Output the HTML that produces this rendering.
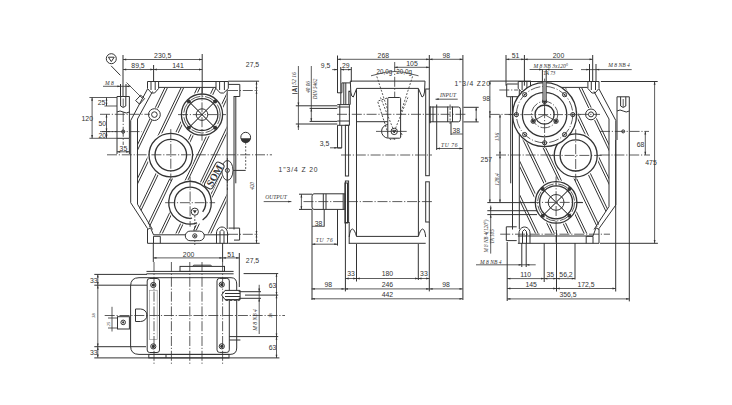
<!DOCTYPE html>
<html><head><meta charset="utf-8"><title>Gearbox drawing</title>
<style>
html,body{margin:0;padding:0;background:#fff;}
svg{display:block;}
svg *{stroke:#333;stroke-width:1;fill:none;}
.dm{stroke-width:0.8;}
.th{stroke-width:1.3;}
.lt{stroke:#999;stroke-width:0.7;}
.cl{stroke-width:0.8;stroke-dasharray:10 1.8 1.2 1.8;}
.hd{stroke-width:0.8;stroke-dasharray:2 1.5;}
.f{fill:#333;stroke:none;}
.w{fill:#fff;}
.g{fill:#999;stroke-width:0.6;}
text{font-family:"Liberation Sans",sans-serif;fill:#333;stroke:none;}
.ti{font-family:"Liberation Serif",serif;font-style:italic;}
.tbs{font-weight:bold;}
.tb{font-family:"Liberation Serif",serif;font-weight:bold;}
mask *{stroke:none;}
.mb{fill:#000;}
.mw{fill:#fff;}
</style></head><body>
<svg width="732" height="405" viewBox="0 0 732 405">
<defs>
<mask id="mf" maskUnits="userSpaceOnUse" x="0" y="0" width="732" height="405">
<rect x="0" y="0" width="732" height="405" class="mb"/>
<path d="M152.5,88 L226.5,88 L226.5,233.6 L153,233.6 L137.5,204.5 L137.5,119 Z" class="mw"/>
<circle cx="202" cy="114.6" r="22.5" class="mb"/>
<circle cx="154.5" cy="114.3" r="6.8" class="mb"/>
<circle cx="170.8" cy="155.1" r="23.6" class="mb"/>
<circle cx="190.1" cy="202.7" r="23" class="mb"/>
<rect x="185" y="230.5" width="19.6" height="3" class="mb"/>
<g transform="translate(214.3,175.5) rotate(-61)"><rect x="-15.5" y="-5.8" width="31" height="11.6" class="mb"/></g>
<ellipse cx="227.4" cy="170.4" rx="6.5" ry="11" class="mb"/>
</mask>
<mask id="mr" maskUnits="userSpaceOnUse" x="0" y="0" width="732" height="405">
<rect x="0" y="0" width="732" height="405" class="mb"/>
<path d="M594.0,88 L520.0,88 L520.0,233.6 L593.5,233.6 L609.0,206.5 L609.0,119 Z" class="mw"/>
<circle cx="544.6" cy="114.6" r="33.5" class="mb"/>
<circle cx="591" cy="114.4" r="6.8" class="mb"/>
<circle cx="575.7" cy="155.4" r="23.3" class="mb"/>
<circle cx="556.1" cy="202.4" r="22.5" class="mb"/>
</mask>
</defs>
<rect x="0" y="0" width="732" height="405" fill="#fff" style="stroke:none"/>
<circle cx="111.3" cy="58.7" r="5"/>
<path d="M108.4,57.2 L114.2,57.2 L111.3,61.6 Z"/>
<line x1="111.1" y1="65.8" x2="120.4" y2="75.4"/>
<line x1="123" y1="55" x2="123" y2="97"/>
<line x1="153.6" y1="65" x2="153.6" y2="82"/>
<line x1="202.2" y1="54" x2="202.2" y2="93"/>
<line x1="123" y1="59.5" x2="202.2" y2="59.5" class="dm"/>
<path class="f" d="M123,59.5 L126.2,58.6 L126.2,60.4 Z"/>
<path class="f" d="M202.2,59.5 L199,60.4 L199,58.6 Z"/>
<line x1="123" y1="69.5" x2="153.6" y2="69.5" class="dm"/>
<path class="f" d="M123,69.5 L126.2,68.6 L126.2,70.4 Z"/>
<path class="f" d="M153.6,69.5 L150.4,70.4 L150.4,68.6 Z"/>
<line x1="153.6" y1="69.5" x2="202.2" y2="69.5" class="dm"/>
<path class="f" d="M153.6,69.5 L156.8,68.6 L156.8,70.4 Z"/>
<path class="f" d="M202.2,69.5 L199,70.4 L199,68.6 Z"/>
<text transform="translate(162.7 57.8) scale(0.86 1)" font-size="8" text-anchor="middle" class="t">230,5</text>
<text transform="translate(138 67.9) scale(0.86 1)" font-size="8" text-anchor="middle" class="t">89,5</text>
<text transform="translate(178 67.9) scale(0.86 1)" font-size="8" text-anchor="middle" class="t">141</text>
<text transform="translate(252.5 66.5) scale(0.86 1)" font-size="8" text-anchor="middle" class="t">27,5</text>
<text transform="translate(109.3 84.6) scale(0.86 1)" font-size="6.5" text-anchor="middle" class="ti">M 8</text>
<line x1="103" y1="86.3" x2="130.6" y2="86.3" class="dm"/>
<path class="f" d="M120.5,86.3 L117.3,87.2 L117.3,85.4 Z"/>
<path class="f" d="M126,86.3 L129.2,85.4 L129.2,87.2 Z"/>
<line x1="120.5" y1="84" x2="120.5" y2="97"/>
<line x1="126" y1="84" x2="126" y2="97"/>
<path d="M117,96.5 L129.4,96.5 L129.4,138.3 L117,138.3 Z"/>
<path d="M120.6,96.5 L120.6,106 Q123.2,109 125.8,106 L125.8,96.5"/>
<line x1="123.2" y1="98.5" x2="123.2" y2="107" class="dm"/>
<path d="M117,112 q3,-2 6.2,0 q3,2 6.2,0"/>
<line x1="89.4" y1="97.5" x2="117" y2="97.5" class="dm"/>
<line x1="104.4" y1="106" x2="117" y2="106" class="dm"/>
<line x1="89.4" y1="138.3" x2="117" y2="138.3" class="dm"/>
<line x1="102" y1="131.6" x2="117" y2="131.6" class="dm"/>
<line x1="100" y1="114.3" x2="150" y2="114.3" class="cl"/>
<line x1="100" y1="131.6" x2="142" y2="131.6" class="cl"/>
<circle cx="123.2" cy="131.6" r="1.6"/>
<line x1="123.2" y1="112" x2="123.2" y2="145" class="cl"/>
<line x1="92.1" y1="97.5" x2="92.1" y2="138.3" class="dm"/>
<path class="f" d="M92.1,97.5 L93,100.7 L91.2,100.7 Z"/>
<path class="f" d="M92.1,138.3 L91.2,135.1 L93,135.1 Z"/>
<text transform="translate(93 121.3) scale(0.86 1)" font-size="8" text-anchor="end" class="t">120</text>
<line x1="106.5" y1="97.5" x2="106.5" y2="106" class="dm"/>
<path class="f" d="M106.5,97.5 L107.4,100.7 L105.6,100.7 Z"/>
<path class="f" d="M106.5,106 L105.6,102.8 L107.4,102.8 Z"/>
<line x1="106.5" y1="114.3" x2="106.5" y2="131.6" class="dm"/>
<path class="f" d="M106.5,114.3 L107.4,117.5 L105.6,117.5 Z"/>
<path class="f" d="M106.5,131.6 L105.6,128.4 L107.4,128.4 Z"/>
<line x1="106.5" y1="131.6" x2="106.5" y2="138.3" class="dm"/>
<path class="f" d="M106.5,131.6 L107.4,134.8 L105.6,134.8 Z"/>
<path class="f" d="M106.5,138.3 L105.6,135.1 L107.4,135.1 Z"/>
<text transform="translate(101.5 104.6) scale(0.86 1)" font-size="8" text-anchor="middle" class="t">25</text>
<text transform="translate(102.3 126.4) scale(0.86 1)" font-size="8" text-anchor="middle" class="t">50</text>
<text transform="translate(102.3 138) scale(0.86 1)" font-size="8" text-anchor="middle" class="t">20</text>
<line x1="117" y1="138.3" x2="117" y2="154"/>
<line x1="129.4" y1="138.3" x2="129.4" y2="154"/>
<line x1="117" y1="151.8" x2="129.4" y2="151.8" class="dm"/>
<path class="f" d="M117,151.8 L120.2,150.9 L120.2,152.7 Z"/>
<path class="f" d="M129.4,151.8 L126.2,152.7 L126.2,150.9 Z"/>
<text transform="translate(123.4 150.6) scale(0.86 1)" font-size="8" text-anchor="middle" class="t">35</text>
<line x1="107" y1="154.8" x2="272" y2="154.8" class="cl"/>
<path d="M140.7,95.2 L144.6,98.6 L139.6,104.2 L135.6,100.6 Z"/>
<line x1="126.5" y1="82.5" x2="142.5" y2="98.5" class="dm"/>
<path d="M228.3,84.4 L239.8,84.4 L239.8,96.5 L233.9,96.5"/>
<path d="M228.6,228.1 L239.6,228.1 L239.6,240.1 L234,240.1"/>
<line x1="228" y1="90.5" x2="258" y2="90.5" class="cl"/>
<line x1="228" y1="234.3" x2="258" y2="234.3" class="cl"/>
<line x1="228.6" y1="243.3" x2="259.7" y2="243.3"/>
<line x1="228.3" y1="81.2" x2="259.1" y2="81.2"/>
<line x1="256.5" y1="81.2" x2="256.5" y2="243.3" class="dm"/>
<path class="f" d="M256.5,81.2 L257.4,84.4 L255.6,84.4 Z"/>
<path class="f" d="M256.5,90.5 L257.4,93.7 L255.6,93.7 Z"/>
<path class="f" d="M256.5,234.3 L255.6,231.1 L257.4,231.1 Z"/>
<path class="f" d="M256.5,243.3 L255.6,240.1 L257.4,240.1 Z"/>
<path class="f" d="M256.5,90.5 L255.6,87.3 L257.4,87.3 Z"/>
<path class="f" d="M256.5,234.3 L257.4,237.5 L255.6,237.5 Z"/>
<text transform="translate(254.3 186) rotate(-90) scale(0.86 1)" font-size="6" text-anchor="middle" class="ti">420</text>
<circle cx="245.7" cy="137.2" r="4.9" class="w"/>
<path d="M240.8,138.2 A4.9,4.9 0 0 0 250.6,138.2 Z" class="f"/>
<line x1="245.7" y1="142.5" x2="245.7" y2="170.4" class="hd"/>
<line x1="233.2" y1="170.4" x2="245.7" y2="170.4"/>
<ellipse cx="227.4" cy="170.4" rx="5.6" ry="9.9" class="w"/>
<circle cx="227.4" cy="170.4" r="2"/>
<line x1="227.4" y1="158" x2="227.4" y2="190" class="cl"/>
<line x1="147.5" y1="81.5" x2="228.3" y2="81.5"/>
<line x1="159" y1="87.4" x2="216" y2="87.4"/>
<path d="M147.5,89 L130.7,120.5 L130.7,202.7 L147.5,228.5"/>
<path d="M152.5,91.5 L137.5,119 L137.5,204.2 L152.5,229.5"/>
<path d="M147.5,81.5 L147.5,88.5 L151.5,93 L154.6,93 L158.6,88.5 L158.6,81.5"/>
<line x1="151" y1="81.5" x2="151" y2="90"/>
<line x1="155.2" y1="81.5" x2="155.2" y2="90"/>
<path d="M216,81.5 L216,88.5 L220.3,93 L223.6,93 L228.3,88.5 L228.3,81.5"/>
<line x1="219.6" y1="81.5" x2="219.6" y2="90"/>
<line x1="224.4" y1="81.5" x2="224.4" y2="90"/>
<line x1="227.2" y1="90" x2="227.2" y2="229"/>
<line x1="234" y1="96.1" x2="234" y2="229.5"/>
<line x1="235.8" y1="97" x2="235.8" y2="183.3"/>
<line x1="153.5" y1="234.8" x2="228.6" y2="234.8"/>
<line x1="147.5" y1="243.3" x2="228.6" y2="243.3"/>
<path d="M153.5,243.3 L153.5,236.3 L160.3,236.3 L160.3,243.3"/>
<line x1="147.5" y1="228.5" x2="147.5" y2="243.3"/>
<path d="M147.5,229.5 L150.5,227.8 L153.5,234.8"/>
<path d="M216.5,243.3 L216.5,233 L216.5,233 L216.69,231.45 L217.24,230 L218.11,228.76 L219.25,227.8 L220.58,227.2 L222,227 L223.42,227.2 L224.75,227.8 L225.89,228.76 L226.76,230 L227.31,231.45 L227.5,233 L227.5,243.3"/>
<path d="M220,243.3 L220,231.5 L222,229.5 L224,231.5 L224,243.3"/>
<g mask="url(#mf)">
<line x1="145.78" y1="60" x2="54.58" y2="250"/>
<line x1="148.38" y1="60" x2="57.18" y2="250"/>
<line x1="161.98" y1="60" x2="70.78" y2="250"/>
<line x1="164.58" y1="60" x2="73.38" y2="250"/>
<line x1="178.18" y1="60" x2="86.98" y2="250"/>
<line x1="180.78" y1="60" x2="89.58" y2="250"/>
<line x1="194.38" y1="60" x2="103.18" y2="250"/>
<line x1="196.98" y1="60" x2="105.78" y2="250"/>
<line x1="210.58" y1="60" x2="119.38" y2="250"/>
<line x1="213.18" y1="60" x2="121.98" y2="250"/>
<line x1="226.78" y1="60" x2="135.58" y2="250"/>
<line x1="229.38" y1="60" x2="138.18" y2="250"/>
<line x1="242.98" y1="60" x2="151.78" y2="250"/>
<line x1="245.58" y1="60" x2="154.38" y2="250"/>
<line x1="259.18" y1="60" x2="167.98" y2="250"/>
<line x1="261.78" y1="60" x2="170.58" y2="250"/>
<line x1="275.38" y1="60" x2="184.18" y2="250"/>
<line x1="277.98" y1="60" x2="186.78" y2="250"/>
<line x1="291.58" y1="60" x2="200.38" y2="250"/>
<line x1="294.18" y1="60" x2="202.98" y2="250"/>
</g>
<circle cx="202" cy="114.6" r="20.6" class="th"/>
<circle cx="202" cy="114.6" r="18.3" class="cl"/>
<circle cx="202" cy="114.6" r="15.9" class="th"/>
<circle cx="202" cy="114.6" r="5.8"/>
<circle cx="188.9" cy="101.5" r="2" class="f"/>
<line x1="188.9" y1="101.5" x2="215.1" y2="127.7" class="dm"/>
<circle cx="188.9" cy="127.7" r="2" class="f"/>
<line x1="188.9" y1="127.7" x2="215.1" y2="101.5" class="dm"/>
<circle cx="215.1" cy="101.5" r="2" class="f"/>
<line x1="215.1" y1="101.5" x2="188.9" y2="127.7" class="dm"/>
<circle cx="215.1" cy="127.7" r="2" class="f"/>
<line x1="215.1" y1="127.7" x2="188.9" y2="101.5" class="dm"/>
<line x1="178" y1="114.6" x2="226" y2="114.6" class="cl"/>
<line x1="202" y1="87.6" x2="202" y2="140.6" class="cl"/>
<circle cx="154.4" cy="114.6" r="5.9"/>
<circle cx="154.4" cy="114.6" r="2.8"/>
<circle cx="170.8" cy="155.1" r="21.8" class="th"/>
<circle cx="170.8" cy="155.1" r="15.8" class="th"/>
<line x1="170.8" y1="129.1" x2="170.8" y2="181.1" class="cl"/>
<path d="M197.1,222.79999999999998 A21.3,21.3 0 1 1 202.6,219.89999999999998" class="th"/>
<path d="M192.1,218.2 A15.6,15.6 0 1 1 202.7,211.89999999999998" class="th"/>
<line x1="165.1" y1="202.7" x2="215.1" y2="202.7" class="cl"/>
<line x1="190.1" y1="176.7" x2="190.1" y2="226.7" class="cl"/>
<circle cx="194.8" cy="211.7" r="3.6"/>
<path d="M192.8,210.3 L196.8,210.3 L194.8,213.6 Z" class="f"/>
<line x1="194.8" y1="215.5" x2="194.8" y2="245" class="hd"/>
<rect x="185.3" y="231.1" width="19" height="9.6" rx="4.8" class="w"/>
<circle cx="194.8" cy="235.9" r="2.1"/>
<circle cx="194.8" cy="235.9" r="1" class="f"/>
<g transform="translate(214.3,175.5) rotate(-61)"><rect x="-14" y="-4.6" width="28" height="9.2" rx="3" class="w"/><text x="0" y="3.6" font-size="10" text-anchor="middle" class="tb">SOM</text></g>
<line x1="153.3" y1="243" x2="153.3" y2="262"/>
<line x1="222.6" y1="243" x2="222.6" y2="262"/>
<line x1="239.3" y1="253" x2="239.3" y2="287"/>
<line x1="153.3" y1="257.9" x2="222.6" y2="257.9" class="dm"/>
<path class="f" d="M153.3,257.9 L156.5,257 L156.5,258.8 Z"/>
<path class="f" d="M222.6,257.9 L219.4,258.8 L219.4,257 Z"/>
<line x1="222.6" y1="257.9" x2="239.3" y2="257.9" class="dm"/>
<path class="f" d="M222.6,257.9 L225.8,257 L225.8,258.8 Z"/>
<path class="f" d="M239.3,257.9 L236.1,258.8 L236.1,257 Z"/>
<text transform="translate(188.6 256.6) scale(0.86 1)" font-size="8" text-anchor="middle" class="t">200</text>
<text transform="translate(231 256.8) scale(0.86 1)" font-size="8" text-anchor="middle" class="t">51</text>
<text transform="translate(252.5 262.6) scale(0.86 1)" font-size="8" text-anchor="middle" class="t">27,5</text>
<line x1="94.3" y1="274.4" x2="147" y2="274.4"/>
<line x1="94.3" y1="285.2" x2="147" y2="285.2"/>
<line x1="94.3" y1="346.7" x2="146" y2="346.7"/>
<line x1="94.3" y1="357.9" x2="279.4" y2="357.9"/>
<line x1="97.8" y1="274.4" x2="97.8" y2="357.6" class="dm"/>
<path class="f" d="M97.8,274.4 L98.7,277.6 L96.9,277.6 Z"/>
<path class="f" d="M97.8,285.2 L96.9,282 L98.7,282 Z"/>
<path class="f" d="M97.8,285.2 L98.7,288.4 L96.9,288.4 Z"/>
<path class="f" d="M97.8,346.7 L96.9,343.5 L98.7,343.5 Z"/>
<path class="f" d="M97.8,346.7 L98.7,349.9 L96.9,349.9 Z"/>
<path class="f" d="M97.8,357.6 L96.9,354.4 L98.7,354.4 Z"/>
<text transform="translate(93.7 282.5) scale(0.86 1)" font-size="8" text-anchor="middle" class="t">33</text>
<text transform="translate(93.7 355) scale(0.86 1)" font-size="8" text-anchor="middle" class="t">33</text>
<text transform="translate(94.8 315.5) rotate(-90) scale(0.86 1)" font-size="5" text-anchor="middle" class="ti">38</text>
<line x1="104.7" y1="315.5" x2="285" y2="315.5" class="cl"/>
<rect x="117.5" y="316.7" width="11.9" height="12.3"/>
<circle cx="123.2" cy="322.4" r="2.3"/>
<circle cx="123.2" cy="322.4" r="1.1" class="f"/>
<line x1="112" y1="306.8" x2="112" y2="331.5" class="dm"/>
<line x1="108" y1="318" x2="118" y2="318" class="dm"/>
<line x1="108" y1="328" x2="118" y2="328" class="dm"/>
<text transform="translate(109.5 324) rotate(-90) scale(0.86 1)" font-size="5" text-anchor="middle" class="ti">25</text>
<path d="M135.5,309 L140.5,309 A6.5,6.25 0 0 1 140.5,321.5 L135.5,321.5 Z"/>
<path d="M139,277.7 L231,277.7 Q236.7,277.7 236.7,284 L236.7,348 Q236.7,354.4 230,354.4 L139,354.4 Q130.6,354.4 130.6,346 L130.6,286 Q130.6,277.7 139,277.7 Z"/>
<rect x="180" y="266.4" width="44.5" height="5"/>
<path d="M192.5,266.4 L193.7,265.2 L210.8,265.2 L212,266.4"/>
<line x1="146.5" y1="271.4" x2="233.6" y2="271.4"/>
<line x1="146.5" y1="273.8" x2="233.6" y2="273.8"/>
<rect x="148.8" y="354.4" width="80.2" height="3.5"/>
<line x1="166" y1="354.4" x2="166" y2="357.9"/>
<rect x="147.2" y="278.5" width="12.3" height="74" rx="2.5"/>
<rect x="149.5" y="290.3" width="7.7" height="49.2" class="lt"/>
<rect x="217" y="278.4" width="12.3" height="74" rx="2.5"/>
<circle cx="153.3" cy="285" r="2.6"/>
<circle cx="153.3" cy="285" r="1.6" class="f"/>
<circle cx="153.3" cy="346.4" r="2.6"/>
<circle cx="153.3" cy="346.4" r="1.6" class="f"/>
<circle cx="221.8" cy="284.6" r="2.6"/>
<circle cx="221.8" cy="284.6" r="1.6" class="f"/>
<circle cx="221.8" cy="346.3" r="2.6"/>
<circle cx="221.8" cy="346.3" r="1.6" class="f"/>
<line x1="154" y1="262" x2="154" y2="364.5" class="cl"/>
<line x1="171.4" y1="262" x2="171.4" y2="364.5" class="cl"/>
<line x1="189.8" y1="262" x2="189.8" y2="364.5" class="cl"/>
<line x1="202" y1="262" x2="202" y2="364.5" class="cl"/>
<line x1="222.6" y1="262" x2="222.6" y2="364.5" class="cl"/>
<path d="M225,290.4 L240.1,290.4 L240.1,299.6 L225,299.6 L221.6,295 Z" class="w"/>
<line x1="225" y1="293.5" x2="240.1" y2="293.5"/>
<line x1="225" y1="296.5" x2="240.1" y2="296.5"/>
<path d="M225,299.6 q2,2 4,0 q2,2 4,0 q2,2 4,0 q2,2 3.1,0"/>
<line x1="229.3" y1="340" x2="240.4" y2="340"/>
<line x1="243.6" y1="273.6" x2="278.2" y2="273.6"/>
<line x1="238.7" y1="291.7" x2="261" y2="291.7"/>
<line x1="238.7" y1="298.3" x2="261" y2="298.3"/>
<line x1="245" y1="295.1" x2="278.2" y2="295.1"/>
<line x1="229" y1="336.6" x2="278.2" y2="336.6"/>
<line x1="276.5" y1="273.6" x2="276.5" y2="357.9" class="dm"/>
<path class="f" d="M276.5,273.6 L277.4,276.8 L275.6,276.8 Z"/>
<path class="f" d="M276.5,295.1 L275.6,291.9 L277.4,291.9 Z"/>
<path class="f" d="M276.5,295.1 L277.4,298.3 L275.6,298.3 Z"/>
<path class="f" d="M276.5,336.6 L275.6,333.4 L277.4,333.4 Z"/>
<path class="f" d="M276.5,336.6 L277.4,339.8 L275.6,339.8 Z"/>
<path class="f" d="M276.5,357.9 L275.6,354.7 L277.4,354.7 Z"/>
<text transform="translate(272.5 287.5) scale(0.86 1)" font-size="8" text-anchor="middle" class="t">63</text>
<text transform="translate(272.5 349.8) scale(0.86 1)" font-size="8" text-anchor="middle" class="t">63</text>
<text transform="translate(271.8 315.5) rotate(-90) scale(0.86 1)" font-size="5" text-anchor="middle" class="ti">38</text>
<line x1="259.2" y1="284.8" x2="259.2" y2="334" class="dm"/>
<path class="f" d="M259.2,291.7 L258.3,288.5 L260.1,288.5 Z"/>
<path class="f" d="M259.2,298.3 L260.1,301.5 L258.3,301.5 Z"/>
<text transform="translate(257.3 320) rotate(-90) scale(0.86 1)" font-size="6.5" text-anchor="middle" class="ti">M 8  NB 4</text>
<line x1="337.5" y1="55.5" x2="337.5" y2="93"/>
<line x1="429.3" y1="55" x2="429.3" y2="89"/>
<line x1="462.9" y1="55" x2="462.9" y2="300"/>
<line x1="337.5" y1="59.3" x2="429.3" y2="59.3" class="dm"/>
<path class="f" d="M337.5,59.3 L340.7,58.4 L340.7,60.2 Z"/>
<path class="f" d="M429.3,59.3 L426.1,60.2 L426.1,58.4 Z"/>
<line x1="429.3" y1="59.3" x2="462.9" y2="59.3" class="dm"/>
<path class="f" d="M429.3,59.3 L432.5,58.4 L432.5,60.2 Z"/>
<path class="f" d="M462.9,59.3 L459.7,60.2 L459.7,58.4 Z"/>
<text transform="translate(383.3 57.6) scale(0.86 1)" font-size="8" text-anchor="middle" class="t">268</text>
<text transform="translate(446.3 57.6) scale(0.86 1)" font-size="8" text-anchor="middle" class="t">98</text>
<line x1="394.5" y1="67.3" x2="429.3" y2="67.3" class="dm"/>
<path class="f" d="M394.5,67.3 L397.7,66.4 L397.7,68.2 Z"/>
<path class="f" d="M429.3,67.3 L426.1,68.2 L426.1,66.4 Z"/>
<text transform="translate(412 66.1) scale(0.86 1)" font-size="8" text-anchor="middle" class="t">105</text>
<text transform="translate(325.6 67.9) scale(0.86 1)" font-size="8" text-anchor="middle" class="t">9,5</text>
<line x1="332.2" y1="69.6" x2="337.5" y2="69.6" class="dm"/>
<path class="f" d="M337.5,69.6 L334.3,70.5 L334.3,68.7 Z"/>
<text transform="translate(345.8 67.8) scale(0.86 1)" font-size="8" text-anchor="middle" class="t">29</text>
<line x1="340.8" y1="69.6" x2="351.3" y2="69.6" class="dm"/>
<path class="f" d="M340.8,69.6 L344,68.7 L344,70.5 Z"/>
<path class="f" d="M351.3,69.6 L348.1,70.5 L348.1,68.7 Z"/>
<line x1="340.8" y1="67" x2="340.8" y2="104.6"/>
<line x1="351.3" y1="67" x2="351.3" y2="82"/>
<line x1="394.7" y1="62" x2="394.7" y2="140" class="cl"/>
<path d="M376.2,74.5 A60,60 0 0 1 413.2,74.5" class="dm"/>
<line x1="371" y1="75.8" x2="376.2" y2="74.5" class="dm"/>
<line x1="413.2" y1="74.5" x2="418.5" y2="75.8" class="dm"/>
<line x1="394.7" y1="131.6" x2="376.2" y2="74.5" class="hd"/>
<line x1="394.7" y1="131.6" x2="413.2" y2="74.5" class="hd"/>
<text transform="translate(384.3 73.5) scale(0.78 1)" font-size="8" text-anchor="middle" class="t">20,0g</text>
<text transform="translate(404.1 73.5) scale(0.78 1)" font-size="8" text-anchor="middle" class="t">20,0g</text>
<line x1="350.3" y1="81.1" x2="425" y2="81.1"/>
<path d="M350.3,81.1 L350.8,92 Q351.5,97.5 353.3,97 L356.7,88.4"/>
<path d="M425,81.1 L424.5,92 Q423.8,97.5 422,97 L418.4,88.4"/>
<line x1="356.7" y1="88.4" x2="418.4" y2="88.4"/>
<line x1="337.5" y1="82.9" x2="337.5" y2="92.8"/>
<line x1="337.5" y1="92.8" x2="341.9" y2="92.8"/>
<line x1="341.9" y1="82.9" x2="341.9" y2="92.8"/>
<line x1="341.9" y1="82.9" x2="350.3" y2="82.9"/>
<line x1="337.5" y1="125.3" x2="337.5" y2="148"/>
<line x1="337.5" y1="148" x2="341.7" y2="148"/>
<line x1="341.7" y1="125.3" x2="341.7" y2="148"/>
<rect x="345.4" y="125.3" width="3.2" height="50.7" />
<rect x="348.7" y="91" width="1.8" height="13.6" class="g"/>
<line x1="343.8" y1="82.9" x2="343.8" y2="104.6"/>
<line x1="345.8" y1="82.9" x2="345.8" y2="104.6"/>
<rect x="345.4" y="181" width="3.2" height="41.5" />
<line x1="349.2" y1="222" x2="349.2" y2="244"/>
<line x1="356.5" y1="88.8" x2="356.5" y2="236.4"/>
<line x1="418.4" y1="88.8" x2="418.4" y2="236.4"/>
<rect x="425.7" y="89" width="3.6" height="86.7" />
<rect x="425.7" y="181.8" width="3.6" height="40.2" />
<line x1="429.3" y1="222" x2="429.3" y2="291.4"/>
<line x1="345.4" y1="222" x2="345.4" y2="291.4"/>
<path d="M349.2,243.3 L425.7,243.3"/>
<path d="M356.5,236.4 L418.4,236.4"/>
<path d="M349.2,237 Q350,229 352.5,229 Q354.5,229.5 356.5,236.4"/>
<path d="M425.7,237 Q424.9,229 422.4,229 Q420.4,229.5 418.4,236.4"/>
<rect x="387.8" y="97.5" width="12.8" height="40.7" rx="1" class="hd" transform="rotate(-18 394.2 131.6)"/>
<rect x="387.8" y="97.5" width="12.8" height="40.7" rx="1" class="w"/>
<path d="M387.8,124.4 A7.5,7 0 0 0 387.8,138.2"/>
<line x1="394.2" y1="131.6" x2="380.5" y2="97.5" class="hd"/>
<line x1="394.2" y1="131.6" x2="407.9" y2="97.5" class="hd"/>
<circle cx="394.2" cy="131.4" r="3.2"/>
<path d="M392.7,130 L394.2,133 L395.7,130"/>
<line x1="376" y1="131.4" x2="406.7" y2="131.4" class="dm"/>
<line x1="356.5" y1="121.7" x2="387.8" y2="121.7"/>
<line x1="337.3" y1="107" x2="349.4" y2="107"/>
<line x1="337.3" y1="121" x2="349.4" y2="121"/>
<line x1="337" y1="114.3" x2="467" y2="114.3" class="cl"/>
<line x1="341" y1="155" x2="432" y2="155" class="cl"/>
<line x1="303.5" y1="201.6" x2="432" y2="201.6" class="cl"/>
<path d="M337.3,104.6 L349.4,104.6 L349.4,125.3 L337.3,125.3"/>
<line x1="339.8" y1="104.6" x2="339.8" y2="125.3"/>
<line x1="295.8" y1="105.8" x2="337.3" y2="105.8"/>
<line x1="295.8" y1="124" x2="337.3" y2="124"/>
<line x1="309.6" y1="108.4" x2="337.3" y2="108.4"/>
<line x1="309.6" y1="121.4" x2="337.3" y2="121.4"/>
<line x1="298.4" y1="66" x2="298.4" y2="130" class="dm"/>
<path class="f" d="M298.4,105.8 L297.5,102.6 L299.3,102.6 Z"/>
<path class="f" d="M298.4,124 L299.3,127.2 L297.5,127.2 Z"/>
<line x1="311.3" y1="66" x2="311.3" y2="121.4" class="dm"/>
<path class="f" d="M311.3,108.4 L312.2,111.6 L310.4,111.6 Z"/>
<path class="f" d="M311.3,121.4 L310.4,118.2 L312.2,118.2 Z"/>
<text transform="translate(296.4 78.5) rotate(-90) scale(0.86 1)" font-size="6.5" text-anchor="middle" class="ti">52  16</text>
<text transform="translate(296.8 90) rotate(-90) scale(0.86 1)" font-size="7" text-anchor="middle" class="tbs">A</text>
<line x1="292.3" y1="93.5" x2="297.6" y2="93.5" class="dm"/>
<line x1="292.3" y1="86.5" x2="297.6" y2="86.5" class="dm"/>
<text transform="translate(309.8 87) rotate(-90) scale(0.86 1)" font-size="6" text-anchor="middle" class="ti">40 06</text>
<text transform="translate(316.8 89) rotate(-90) scale(0.86 1)" font-size="6" text-anchor="middle" class="ti">DIN 5462</text>
<text transform="translate(324.5 146.2) scale(0.86 1)" font-size="8" text-anchor="middle" class="t">3,5</text>
<line x1="330" y1="147.8" x2="341.7" y2="147.8" class="dm"/>
<path class="f" d="M337.5,147.8 L334.3,148.7 L334.3,146.9 Z"/>
<path d="M430,107 L458.4,107 Q460.4,107 460.4,109.4 L460.4,119.4 Q460.4,121.8 458.4,121.8 L430,121.8"/>
<rect x="429.3" y="106.3" width="1.4" height="16.9" class="f"/>
<line x1="447.7" y1="106.6" x2="447.7" y2="122"/>
<line x1="452.5" y1="106.6" x2="452.5" y2="122"/>
<line x1="450.1" y1="104.5" x2="450.1" y2="124" class="hd"/>
<line x1="433" y1="106.6" x2="433" y2="122"/>
<line x1="436.7" y1="104.5" x2="436.7" y2="150"/>
<line x1="451" y1="122" x2="451" y2="135"/>
<line x1="463.4" y1="107.3" x2="478.7" y2="107.3"/>
<line x1="463.4" y1="121.9" x2="478.7" y2="121.9"/>
<line x1="476.2" y1="107.3" x2="476.2" y2="121.9" class="dm"/>
<path class="f" d="M476.2,107.3 L477.1,110.5 L475.3,110.5 Z"/>
<path class="f" d="M476.2,121.9 L475.3,118.7 L477.1,118.7 Z"/>
<line x1="436.7" y1="148.5" x2="462.7" y2="148.5" class="dm"/>
<path class="f" d="M436.7,148.5 L439.9,147.6 L439.9,149.4 Z"/>
<path class="f" d="M462.7,148.5 L459.5,149.4 L459.5,147.6 Z"/>
<text transform="translate(449.2 147) scale(0.86 1)" font-size="6.5" text-anchor="middle" class="ti" textLength="19.19" lengthAdjust="spacing">TU   76</text>
<line x1="451" y1="134" x2="462.7" y2="134" class="dm"/>
<text transform="translate(456.2 133) scale(0.86 1)" font-size="8" text-anchor="middle" class="t">38</text>
<line x1="435.5" y1="99.2" x2="457.7" y2="99.2" class="dm"/>
<path class="f" d="M435.5,99.2 L438.7,98.3 L438.7,100.1 Z"/>
<text transform="translate(448 97.4) scale(0.86 1)" font-size="6.5" text-anchor="middle" class="ti">INPUT</text>
<text transform="translate(454.5 86) scale(0.9 1)" font-size="7.5" text-anchor="start" class="t" textLength="39.44" lengthAdjust="spacing">1"3/4  Z20</text>
<text transform="translate(486.3 101) scale(0.86 1)" font-size="8" text-anchor="middle" class="t">98</text>
<text transform="translate(278.6 172.3) scale(0.9 1)" font-size="7.5" text-anchor="start" class="t" textLength="43.33" lengthAdjust="spacing">1"3/4  Z 20</text>
<path d="M314,193.8 L344.9,193.8 L344.9,209.4 L314,209.4 Q312,209.4 312,207 L312,196.2 Q312,193.8 314,193.8"/>
<line x1="323.3" y1="193.8" x2="323.3" y2="209.4"/>
<line x1="326" y1="193.8" x2="326" y2="209.4"/>
<line x1="343.2" y1="193.8" x2="343.2" y2="209.4"/>
<rect x="344.9" y="183" width="2.6" height="40" />
<line x1="299" y1="194.2" x2="312" y2="194.2"/>
<line x1="299" y1="209.4" x2="312" y2="209.4"/>
<line x1="301.4" y1="194.2" x2="301.4" y2="209.4" class="dm"/>
<path class="f" d="M301.4,194.2 L302.3,197.4 L300.5,197.4 Z"/>
<path class="f" d="M301.4,209.4 L300.5,206.2 L302.3,206.2 Z"/>
<line x1="263.7" y1="201.6" x2="291.4" y2="201.6" class="dm"/>
<path class="f" d="M291.4,201.6 L288.2,202.5 L288.2,200.7 Z"/>
<text transform="translate(276 198.7) scale(0.86 1)" font-size="6.5" text-anchor="middle" class="ti">OUTPUT</text>
<line x1="312" y1="209.4" x2="312" y2="300"/>
<line x1="324.2" y1="209.4" x2="324.2" y2="226.6"/>
<line x1="337.5" y1="209.4" x2="337.5" y2="245.6"/>
<line x1="312" y1="226.3" x2="324.2" y2="226.3" class="dm"/>
<text transform="translate(318.5 225.8) scale(0.86 1)" font-size="8" text-anchor="middle" class="t">38</text>
<line x1="312" y1="244.2" x2="337.5" y2="244.2" class="dm"/>
<path class="f" d="M312,244.2 L315.2,243.3 L315.2,245.1 Z"/>
<path class="f" d="M337.5,244.2 L334.3,245.1 L334.3,243.3 Z"/>
<text transform="translate(324.2 242.2) scale(0.86 1)" font-size="6.5" text-anchor="middle" class="ti" textLength="19.77" lengthAdjust="spacing">TU   76</text>
<line x1="356.5" y1="244" x2="356.5" y2="281.5"/>
<line x1="418.3" y1="244" x2="418.3" y2="280"/>
<line x1="345.4" y1="278.5" x2="356.5" y2="278.5" class="dm"/>
<path class="f" d="M345.4,278.5 L348.6,277.6 L348.6,279.4 Z"/>
<path class="f" d="M356.5,278.5 L353.3,279.4 L353.3,277.6 Z"/>
<line x1="356.5" y1="278.5" x2="418.3" y2="278.5" class="dm"/>
<path class="f" d="M356.5,278.5 L359.7,277.6 L359.7,279.4 Z"/>
<path class="f" d="M418.3,278.5 L415.1,279.4 L415.1,277.6 Z"/>
<line x1="418.3" y1="278.5" x2="429.4" y2="278.5" class="dm"/>
<path class="f" d="M418.3,278.5 L421.5,277.6 L421.5,279.4 Z"/>
<path class="f" d="M429.4,278.5 L426.2,279.4 L426.2,277.6 Z"/>
<text transform="translate(351 276.4) scale(0.86 1)" font-size="8" text-anchor="middle" class="t">33</text>
<text transform="translate(387.4 276.4) scale(0.86 1)" font-size="8" text-anchor="middle" class="t">180</text>
<text transform="translate(423.9 276.4) scale(0.86 1)" font-size="8" text-anchor="middle" class="t">33</text>
<line x1="311.6" y1="288.9" x2="344.7" y2="288.9" class="dm"/>
<path class="f" d="M311.6,288.9 L314.8,288 L314.8,289.8 Z"/>
<path class="f" d="M344.7,288.9 L341.5,289.8 L341.5,288 Z"/>
<line x1="344.7" y1="288.9" x2="429.4" y2="288.9" class="dm"/>
<path class="f" d="M344.7,288.9 L347.9,288 L347.9,289.8 Z"/>
<path class="f" d="M429.4,288.9 L426.2,289.8 L426.2,288 Z"/>
<line x1="429.4" y1="288.9" x2="462.7" y2="288.9" class="dm"/>
<path class="f" d="M429.4,288.9 L432.6,288 L432.6,289.8 Z"/>
<path class="f" d="M462.7,288.9 L459.5,289.8 L459.5,288 Z"/>
<text transform="translate(328.2 287.4) scale(0.86 1)" font-size="8" text-anchor="middle" class="t">98</text>
<text transform="translate(387.4 287.4) scale(0.86 1)" font-size="8" text-anchor="middle" class="t">246</text>
<text transform="translate(446 287.4) scale(0.86 1)" font-size="8" text-anchor="middle" class="t">98</text>
<line x1="311.6" y1="298.8" x2="462.7" y2="298.8" class="dm"/>
<path class="f" d="M311.6,298.8 L314.8,297.9 L314.8,299.7 Z"/>
<path class="f" d="M462.7,298.8 L459.5,299.7 L459.5,297.9 Z"/>
<text transform="translate(387.4 297.3) scale(0.86 1)" font-size="8" text-anchor="middle" class="t">442</text>
<line x1="599" y1="81.5" x2="518.2" y2="81.5"/>
<line x1="587.5" y1="87.4" x2="530.5" y2="87.4"/>
<path d="M599,89 L615.8,120.5 L615.8,205 L599,228.5"/>
<path d="M594,91.5 L609,119 L609,206.5 L594,229.5"/>
<path d="M599,81.5 L599,88.5 L595,93 L591.9,93 L587.9,88.5 L587.9,81.5"/>
<line x1="595.5" y1="81.5" x2="595.5" y2="90"/>
<line x1="591.3" y1="81.5" x2="591.3" y2="90"/>
<path d="M530.5,81.5 L530.5,88.5 L526.2,93 L522.9,93 L518.2,88.5 L518.2,81.5"/>
<line x1="526.9" y1="81.5" x2="526.9" y2="90"/>
<line x1="522.1" y1="81.5" x2="522.1" y2="90"/>
<line x1="519.3" y1="90" x2="519.3" y2="229"/>
<line x1="512.5" y1="96.1" x2="512.5" y2="229.5"/>
<line x1="510.7" y1="97" x2="510.7" y2="183.3"/>
<line x1="593" y1="236" x2="517.9" y2="236"/>
<line x1="599" y1="243.3" x2="517.9" y2="243.3"/>
<path d="M593,243.3 L593,236.3 L586.2,236.3 L586.2,243.3"/>
<line x1="599" y1="228.5" x2="599" y2="243.3"/>
<path d="M599,229.5 L596,227.8 L593,236"/>
<path d="M530,243.3 L530,233 L530,233 L529.81,231.45 L529.26,230 L528.39,228.76 L527.25,227.8 L525.92,227.2 L524.5,227 L523.08,227.2 L521.75,227.8 L520.61,228.76 L519.74,230 L519.19,231.45 L519,233 L519,243.3"/>
<path d="M526.5,243.3 L526.5,231.5 L524.5,229.5 L522.5,231.5 L522.5,243.3"/>
<g mask="url(#mr)">
<line x1="600.72" y1="60" x2="691.92" y2="250"/>
<line x1="598.12" y1="60" x2="689.32" y2="250"/>
<line x1="584.52" y1="60" x2="675.72" y2="250"/>
<line x1="581.92" y1="60" x2="673.12" y2="250"/>
<line x1="568.32" y1="60" x2="659.52" y2="250"/>
<line x1="565.72" y1="60" x2="656.92" y2="250"/>
<line x1="552.12" y1="60" x2="643.32" y2="250"/>
<line x1="549.52" y1="60" x2="640.72" y2="250"/>
<line x1="535.92" y1="60" x2="627.12" y2="250"/>
<line x1="533.32" y1="60" x2="624.52" y2="250"/>
<line x1="519.72" y1="60" x2="610.92" y2="250"/>
<line x1="517.12" y1="60" x2="608.32" y2="250"/>
<line x1="503.52" y1="60" x2="594.72" y2="250"/>
<line x1="500.92" y1="60" x2="592.12" y2="250"/>
<line x1="487.32" y1="60" x2="578.52" y2="250"/>
<line x1="484.72" y1="60" x2="575.92" y2="250"/>
<line x1="471.12" y1="60" x2="562.32" y2="250"/>
<line x1="468.52" y1="60" x2="559.72" y2="250"/>
<line x1="454.92" y1="60" x2="546.12" y2="250"/>
<line x1="452.32" y1="60" x2="543.52" y2="250"/>
</g>
<line x1="506" y1="55" x2="506" y2="85.7"/>
<line x1="524.4" y1="55" x2="524.4" y2="85.7"/>
<line x1="592.7" y1="55" x2="592.7" y2="81"/>
<line x1="506" y1="59.3" x2="524.4" y2="59.3" class="dm"/>
<path class="f" d="M506,59.3 L509.2,58.4 L509.2,60.2 Z"/>
<path class="f" d="M524.4,59.3 L521.2,60.2 L521.2,58.4 Z"/>
<line x1="524.4" y1="59.3" x2="592.7" y2="59.3" class="dm"/>
<path class="f" d="M524.4,59.3 L527.6,58.4 L527.6,60.2 Z"/>
<path class="f" d="M592.7,59.3 L589.5,60.2 L589.5,58.4 Z"/>
<text transform="translate(515.6 57.8) scale(0.86 1)" font-size="8" text-anchor="middle" class="t">51</text>
<text transform="translate(558.5 57.8) scale(0.86 1)" font-size="8" text-anchor="middle" class="t">200</text>
<text transform="translate(550.7 67.6) scale(0.86 1)" font-size="6.5" text-anchor="middle" class="ti">M 8   NB 3x120°</text>
<line x1="529.6" y1="69.5" x2="572.7" y2="69.5" class="dm"/>
<path class="f" d="M542.4,69.5 L539.2,70.4 L539.2,68.6 Z"/>
<path class="f" d="M546.2,69.5 L549.4,68.6 L549.4,70.4 Z"/>
<line x1="542.4" y1="69.5" x2="542.4" y2="82"/>
<line x1="546.2" y1="69.5" x2="546.2" y2="82"/>
<text transform="translate(549.3 75.2) scale(0.86 1)" font-size="6" text-anchor="middle" class="ti">TA 73</text>
<text transform="translate(619 67) scale(0.86 1)" font-size="6.5" text-anchor="middle" class="ti">M 8   NB 4</text>
<line x1="581" y1="69.6" x2="631.7" y2="69.6" class="dm"/>
<path class="f" d="M589.5,69.6 L586.3,70.5 L586.3,68.7 Z"/>
<path class="f" d="M596,69.6 L599.2,68.7 L599.2,70.5 Z"/>
<line x1="589.5" y1="64" x2="589.5" y2="81"/>
<line x1="596" y1="64" x2="596" y2="81"/>
<line x1="489.6" y1="81.1" x2="531" y2="81.1"/>
<line x1="600.9" y1="81.5" x2="657.7" y2="81.5"/>
<line x1="489.9" y1="81.1" x2="489.9" y2="202.6" class="dm"/>
<path class="f" d="M489.9,81.1 L490.8,84.3 L489,84.3 Z"/>
<path class="f" d="M489.9,114.4 L489,111.2 L490.8,111.2 Z"/>
<path class="f" d="M489.9,114.4 L490.8,117.6 L489,117.6 Z"/>
<path class="f" d="M489.9,202.6 L489,199.4 L490.8,199.4 Z"/>
<text transform="translate(486.3 162) scale(0.86 1)" font-size="8" text-anchor="middle" class="t">257</text>
<line x1="500" y1="114.4" x2="500" y2="202.6" class="dm"/>
<path class="f" d="M500,114.4 L500.9,117.6 L499.1,117.6 Z"/>
<path class="f" d="M500,155 L499.1,151.8 L500.9,151.8 Z"/>
<path class="f" d="M500,155 L500.9,158.2 L499.1,158.2 Z"/>
<path class="f" d="M500,202.6 L499.1,199.4 L500.9,199.4 Z"/>
<text transform="translate(498.6 137) rotate(-90) scale(0.86 1)" font-size="6.5" text-anchor="middle" class="ti">136</text>
<text transform="translate(498.6 179.5) rotate(-90) scale(0.86 1)" font-size="6.5" text-anchor="middle" class="ti">128,4</text>
<line x1="489.6" y1="114.4" x2="600" y2="114.4" class="cl"/>
<line x1="496" y1="155" x2="650" y2="155" class="cl"/>
<line x1="487.3" y1="202.6" x2="583" y2="202.6"/>
<path d="M517.8,84 L506.7,84 L506.7,96.7 L517.8,96.7"/>
<line x1="499.3" y1="90" x2="518" y2="90" class="cl"/>
<circle cx="575.7" cy="155.4" r="21.5" class="w th"/>
<circle cx="575.7" cy="155.4" r="15.6" class="th"/>
<line x1="549.7" y1="155.4" x2="601.7" y2="155.4" class="cl"/>
<line x1="575.7" y1="129.4" x2="575.7" y2="181.4" class="cl"/>
<circle cx="544.6" cy="114.6" r="32" class="w th"/>
<circle cx="544.6" cy="114.6" r="28.2" class="cl"/>
<circle cx="544.6" cy="114.6" r="22.2" class="th"/>
<circle cx="544.6" cy="114.6" r="13.2" class="cl"/>
<circle cx="544.6" cy="114.6" r="9.6" class="th"/>
<circle cx="572.8" cy="114.6" r="2.1"/>
<circle cx="572.8" cy="114.6" r="0.9" class="f"/>
<circle cx="564.54" cy="134.54" r="2.1"/>
<circle cx="564.54" cy="134.54" r="0.9" class="f"/>
<circle cx="544.6" cy="142.8" r="2.1"/>
<circle cx="544.6" cy="142.8" r="0.9" class="f"/>
<circle cx="524.66" cy="134.54" r="2.1"/>
<circle cx="524.66" cy="134.54" r="0.9" class="f"/>
<circle cx="516.4" cy="114.6" r="2.1"/>
<circle cx="516.4" cy="114.6" r="0.9" class="f"/>
<circle cx="524.66" cy="94.66" r="2.1"/>
<circle cx="524.66" cy="94.66" r="0.9" class="f"/>
<circle cx="564.54" cy="94.66" r="2.1"/>
<circle cx="564.54" cy="94.66" r="0.9" class="f"/>
<circle cx="544.6" cy="101.4" r="2.2"/>
<circle cx="544.6" cy="101.4" r="1.5" class="f"/>
<line x1="544.6" y1="114.6" x2="544.6" y2="101.4" class="dm"/>
<circle cx="556.03" cy="121.2" r="2.2"/>
<circle cx="556.03" cy="121.2" r="1.5" class="f"/>
<line x1="544.6" y1="114.6" x2="556.03" y2="121.2" class="dm"/>
<circle cx="533.17" cy="121.2" r="2.2"/>
<circle cx="533.17" cy="121.2" r="1.5" class="f"/>
<line x1="544.6" y1="114.6" x2="533.17" y2="121.2" class="dm"/>
<line x1="508.6" y1="114.6" x2="580.6" y2="114.6" class="cl"/>
<line x1="544.6" y1="78.6" x2="544.6" y2="150.6" class="cl"/>
<rect x="542.8000000000001" y="81.5" width="3.6" height="19.5" class="g"/>
<circle cx="591" cy="114.4" r="5.4"/>
<circle cx="591" cy="114.4" r="2.5"/>
<circle cx="556.1" cy="202.4" r="20.8" class="w th"/>
<circle cx="556.1" cy="202.4" r="18.5" class="cl"/>
<circle cx="556.1" cy="202.4" r="16.5" class="th"/>
<circle cx="556.1" cy="202.4" r="7.9"/>
<circle cx="542.8" cy="189.1" r="2" class="f"/>
<line x1="542.8" y1="189.1" x2="569.4" y2="215.7" class="dm"/>
<circle cx="542.8" cy="215.7" r="2" class="f"/>
<line x1="542.8" y1="215.7" x2="569.4" y2="189.1" class="dm"/>
<circle cx="569.4" cy="189.1" r="2" class="f"/>
<line x1="569.4" y1="189.1" x2="542.8" y2="215.7" class="dm"/>
<circle cx="569.4" cy="215.7" r="2" class="f"/>
<line x1="569.4" y1="215.7" x2="542.8" y2="189.1" class="dm"/>
<line x1="530.1" y1="202.4" x2="582.1" y2="202.4" class="cl"/>
<line x1="556.1" y1="176.4" x2="556.1" y2="242.4" class="cl"/>
<path d="M617,140 L617,96.8 L629.3,96.8 L629.3,140"/>
<path d="M620.6,96.8 L620.6,106 Q623.2,109 625.8,106 L625.8,96.8"/>
<line x1="623.2" y1="99" x2="623.2" y2="107" class="dm"/>
<path d="M617,111 q3,-2 6.15,0 q3,2 6.15,0"/>
<circle cx="623.2" cy="131.4" r="1.5"/>
<line x1="600" y1="131.4" x2="649" y2="131.4" class="cl"/>
<line x1="615.7" y1="140" x2="615.7" y2="291.5"/>
<line x1="629.3" y1="140" x2="629.3" y2="301.4"/>
<line x1="645.3" y1="131.4" x2="645.3" y2="155" class="dm"/>
<path class="f" d="M645.3,131.4 L646.2,134.6 L644.4,134.6 Z"/>
<path class="f" d="M645.3,155 L644.4,151.8 L646.2,151.8 Z"/>
<text transform="translate(640.5 147) scale(0.86 1)" font-size="8" text-anchor="middle" class="t">68</text>
<line x1="654.6" y1="81.5" x2="654.6" y2="243.3" class="dm"/>
<path class="f" d="M654.6,81.5 L655.5,84.7 L653.7,84.7 Z"/>
<path class="f" d="M654.6,243.3 L653.7,240.1 L655.5,240.1 Z"/>
<text transform="translate(651 165) scale(0.86 1)" font-size="8" text-anchor="middle" class="t">475</text>
<line x1="600" y1="243.3" x2="657.9" y2="243.3"/>
<line x1="487.3" y1="210.7" x2="537" y2="210.7"/>
<line x1="487.3" y1="214.6" x2="537" y2="214.6"/>
<line x1="490.7" y1="205.6" x2="490.7" y2="253.6" class="dm"/>
<path class="f" d="M490.7,210.7 L489.8,207.5 L491.6,207.5 Z"/>
<path class="f" d="M490.7,214.6 L491.6,217.8 L489.8,217.8 Z"/>
<text transform="translate(488.3 236) rotate(-90) scale(0.86 1)" font-size="6" text-anchor="middle" class="ti">M 8  NB 4(120°)</text>
<text transform="translate(493.5 236.5) rotate(-90) scale(0.86 1)" font-size="6" text-anchor="middle" class="ti">TA 105</text>
<path d="M516.7,226.8 L506.3,226.8 L506.3,240.6 L516.7,240.6"/>
<line x1="500.2" y1="234.2" x2="610" y2="234.2" class="cl"/>
<line x1="507.2" y1="242" x2="507.2" y2="301"/>
<line x1="521.8" y1="243" x2="521.8" y2="267"/>
<line x1="526.2" y1="243" x2="526.2" y2="267"/>
<text transform="translate(490.7 263.5) scale(0.86 1)" font-size="6.5" text-anchor="middle" class="ti">M 8   NB 4</text>
<line x1="476" y1="264.8" x2="535.7" y2="264.8" class="dm"/>
<path class="f" d="M521.8,264.8 L518.6,265.7 L518.6,263.9 Z"/>
<path class="f" d="M526.2,264.8 L529.4,263.9 L529.4,265.7 Z"/>
<line x1="544.2" y1="243" x2="544.2" y2="282"/>
<line x1="556.5" y1="230" x2="556.5" y2="291.5"/>
<line x1="575" y1="243" x2="575" y2="279.5"/>
<line x1="507.2" y1="278.6" x2="544.2" y2="278.6" class="dm"/>
<path class="f" d="M507.2,278.6 L510.4,277.7 L510.4,279.5 Z"/>
<path class="f" d="M544.2,278.6 L541,279.5 L541,277.7 Z"/>
<line x1="544.2" y1="278.6" x2="556.5" y2="278.6" class="dm"/>
<path class="f" d="M544.2,278.6 L547.4,277.7 L547.4,279.5 Z"/>
<path class="f" d="M556.5,278.6 L553.3,279.5 L553.3,277.7 Z"/>
<line x1="556.5" y1="278.6" x2="575" y2="278.6" class="dm"/>
<path class="f" d="M556.5,278.6 L559.7,277.7 L559.7,279.5 Z"/>
<path class="f" d="M575,278.6 L571.8,279.5 L571.8,277.7 Z"/>
<text transform="translate(525.7 276.8) scale(0.86 1)" font-size="8" text-anchor="middle" class="t">110</text>
<text transform="translate(550.3 276.8) scale(0.86 1)" font-size="8" text-anchor="middle" class="t">35</text>
<text transform="translate(566 276.8) scale(0.86 1)" font-size="8" text-anchor="middle" class="t">56,2</text>
<line x1="507.2" y1="288.5" x2="556.5" y2="288.5" class="dm"/>
<path class="f" d="M507.2,288.5 L510.4,287.6 L510.4,289.4 Z"/>
<path class="f" d="M556.5,288.5 L553.3,289.4 L553.3,287.6 Z"/>
<line x1="556.5" y1="288.5" x2="615.7" y2="288.5" class="dm"/>
<path class="f" d="M556.5,288.5 L559.7,287.6 L559.7,289.4 Z"/>
<path class="f" d="M615.7,288.5 L612.5,289.4 L612.5,287.6 Z"/>
<text transform="translate(531.2 286.6) scale(0.86 1)" font-size="8" text-anchor="middle" class="t">145</text>
<text transform="translate(586 286.6) scale(0.86 1)" font-size="8" text-anchor="middle" class="t">172,5</text>
<line x1="507.2" y1="298.9" x2="629.3" y2="298.9" class="dm"/>
<path class="f" d="M507.2,298.9 L510.4,298 L510.4,299.8 Z"/>
<path class="f" d="M629.3,298.9 L626.1,299.8 L626.1,298 Z"/>
<text transform="translate(568 297) scale(0.86 1)" font-size="8" text-anchor="middle" class="t">356,5</text>
</svg>
</body></html>
